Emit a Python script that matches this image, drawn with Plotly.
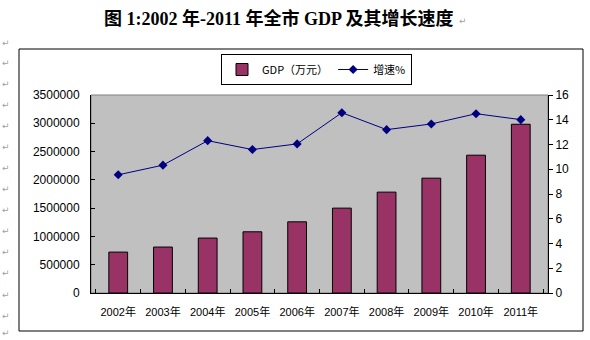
import plotly.graph_objects as go

years = ["2002年", "2003年", "2004年", "2005年", "2006年",
         "2007年", "2008年", "2009年", "2010年", "2011年"]
gdp = [723000, 812000, 971000, 1082000, 1258000,
       1500000, 1783000, 2030000, 2436000, 2983000]
growth = [9.55, 10.33, 12.31, 11.59, 12.05, 14.57, 13.2, 13.66, 14.49, 14.01]
left_ticks = [0, 500000, 1000000, 1500000, 2000000, 2500000, 3000000, 3500000]
right_ticks = [0, 2, 4, 6, 8, 10, 12, 14, 16]
title_text = "图 1:2002 年-2011 年全市 GDP 及其增长速度"

W, H = 590, 340
L, R, T, B = 91, 42, 95, 47
pw, ph = W - L - R, H - T - B

def px(x):
    return (x - L) / pw

def py(y):
    return (H - B - y) / ph

FONT = "Liberation Sans, Arial, Noto Sans CJK SC, sans-serif"

fig = go.Figure()
fig.add_trace(go.Bar(
    x=years, y=gdp, name="GDP（万元）",
    marker=dict(color="#993366", line=dict(color="#000000", width=1)),
    yaxis="y",
))
fig.add_trace(go.Scatter(
    x=years, y=growth, name="增速%", mode="lines+markers",
    line=dict(color="#000080", width=1),
    marker=dict(symbol="diamond", size=7, color="#000080"),
    yaxis="y2",
))

fig.update_layout(
    width=W, height=H,
    margin=dict(l=L, r=R, t=T, b=B, pad=0),
    paper_bgcolor="white",
    plot_bgcolor="#C0C0C0",
    bargap=0.58,
    showlegend=True,
    font=dict(family=FONT, size=12, color="#000000"),
    legend=dict(
        orientation="h", x=px(316.5), xanchor="center", y=py(54), yanchor="top",
        bordercolor="#000000", borderwidth=1, bgcolor="white",
        font=dict(family="SimSun, Noto Sans CJK SC, sans-serif", size=11),
        itemwidth=30, tracegroupgap=0,
    ),
    xaxis=dict(
        type="category", tickson="boundaries", ticks="inside", ticklen=4,
        tickcolor="#000000", showline=True, linecolor="#000000", linewidth=1,
        showgrid=False, tickfont=dict(size=11), tickangle=0, mirror=False,
        ticklabelstandoff=9,
    ),
    yaxis=dict(
        range=[0, 3500000], tickvals=left_ticks,
        ticktext=[str(v) for v in left_ticks],
        ticks="inside", ticklen=4, tickcolor="#000000",
        showline=True, linecolor="#000000", linewidth=1,
        showgrid=False, zeroline=False, ticklabelstandoff=8,
    ),
    yaxis2=dict(
        range=[0, 16], tickvals=right_ticks, overlaying="y", side="right",
        ticks="outside", ticklen=4, tickcolor="#000000",
        showline=True, linecolor="#000000", linewidth=1,
        showgrid=False, zeroline=False,
    ),
    shapes=[
        dict(type="rect", xref="paper", yref="paper",
             x0=px(19), x1=px(583), y0=py(331), y1=py(49),
             line=dict(color="#000000", width=1), layer="below"),
        dict(type="rect", xref="paper", yref="paper",
             x0=0, x1=1, y0=0, y1=1,
             line=dict(color="#808080", width=1), layer="below"),
    ],
)

annotations = [
    dict(text="<b>" + title_text + "</b>", xref="paper", yref="paper",
         x=px(278.5), y=py(18), xanchor="center", yanchor="middle",
         showarrow=False,
         font=dict(family="Liberation Serif, Noto Sans CJK SC, serif", size=18, color="#000000")),
    dict(text="↵", xref="paper", yref="paper", x=px(463), y=py(21),
         xanchor="center", yanchor="middle", showarrow=False,
         font=dict(family="DejaVu Sans", size=9, color="#A0A0A0")),
]
for yy in [43, 63, 84, 105, 126, 147, 168, 189, 210, 231, 252, 273, 295, 316, 333]:
    annotations.append(dict(text="↵", xref="paper", yref="paper", x=px(6), y=py(yy),
                            xanchor="center", yanchor="middle", showarrow=False,
                            font=dict(family="DejaVu Sans", size=9, color="#A0A0A0")))
fig.update_layout(annotations=annotations)

fig.write_html("out.html")
